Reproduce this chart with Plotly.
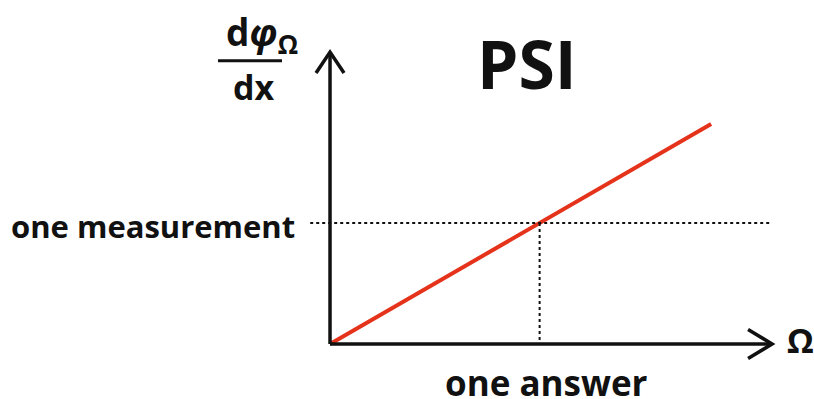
import plotly.graph_objects as go

# Linear relation between the gradient dφ/dx and Ω
omega = [0.0, 1.0]
dphi_dx = [0.0, 1.0]

# The single reading and the value it maps to
measurement = 0.55
answer = 0.55

measure_label = "one measurement"
answer_label = "one answer"
title_text = "PSI"

FONT = "Open Sans"
RED = "#e5321b"
INK = "#111111"

# plot ranges (data units)
X_RANGE = [-0.866, 1.270]
Y_RANGE = [-0.25, 1.5636]
X_AXIS_END = 1.16
Y_AXIS_END = 1.327

fig = go.Figure()

fig.add_trace(go.Scatter(
    x=omega, y=dphi_dx, mode="lines",
    line=dict(color=RED, width=4), hoverinfo="skip", showlegend=False,
))

shapes = []
# axes
shapes.append(dict(type="line", xref="x", yref="y", x0=0, y0=0, x1=X_AXIS_END, y1=0,
                   line=dict(color=INK, width=3.5)))
shapes.append(dict(type="line", xref="x", yref="y", x0=0, y0=0, x1=0, y1=Y_AXIS_END,
                   line=dict(color=INK, width=3.5)))
# open arrow heads
ax_dx, ax_dy = 24 / 381, 14.5 / 220
shapes.append(dict(type="path", xref="x", yref="y",
                   path=f"M{X_AXIS_END-ax_dx},{ax_dy} L{X_AXIS_END},0 L{X_AXIS_END-ax_dx},{-ax_dy}",
                   line=dict(color=INK, width=3.5)))
ay_dx, ay_dy = 14 / 381, 21 / 220
shapes.append(dict(type="path", xref="x", yref="y",
                   path=f"M{-ay_dx},{Y_AXIS_END-ay_dy} L0,{Y_AXIS_END} L{ay_dx},{Y_AXIS_END-ay_dy}",
                   line=dict(color=INK, width=3.5)))
# guide lines
shapes.append(dict(type="line", xref="x", yref="y", x0=-0.052, y0=measurement, x1=X_AXIS_END,
                   y1=measurement, line=dict(color=INK, width=2, dash="3px,3px")))
shapes.append(dict(type="line", xref="x", yref="y", x0=answer, y0=measurement, x1=answer, y1=0,
                   line=dict(color=INK, width=2, dash="3px,3px")))
# fraction bar of the y-axis label
FRAC_Y = 1.288
shapes.append(dict(type="line", xref="x", yref="y", x0=-0.294, y0=FRAC_Y, x1=-0.126, y1=FRAC_Y,
                   line=dict(color=INK, width=3)))

annotations = [
    dict(x=0.517, y=1.282, text=f"<b>{title_text}</b>", showarrow=False,
         font=dict(family=FONT, size=66, color=INK), xanchor="center", yanchor="middle", yshift=-1),
    dict(x=-0.087, y=measurement, text=f"<b>{measure_label}</b>", showarrow=False,
         font=dict(family=FONT, size=31, color=INK), xanchor="right", yanchor="middle", yshift=-3),
    dict(x=answer, y=-0.18, text=f"<b>{answer_label}</b>", showarrow=False,
         font=dict(family=FONT, size=35, color=INK), xanchor="center", yanchor="middle",
         xshift=7, yshift=1),
    dict(x=1.195, y=0, text="<b>Ω</b>", showarrow=False,
         font=dict(family=FONT, size=34, color=INK), xanchor="left", yanchor="middle", yshift=4),
    dict(x=-0.178, y=FRAC_Y, text="<b>d<i>φ</i></b><sub><b>Ω</b></sub>", showarrow=False,
         font=dict(family=FONT, size=37, color=INK), xanchor="center", yanchor="bottom", yshift=-3),
    dict(x=-0.20, y=FRAC_Y, text="<b>dx</b>", showarrow=False,
         font=dict(family=FONT, size=34, color=INK), xanchor="center", yanchor="top", yshift=-1),
]

fig.update_layout(
    width=814, height=399,
    margin=dict(l=0, r=0, t=0, b=0),
    paper_bgcolor="white", plot_bgcolor="white",
    xaxis=dict(range=X_RANGE, visible=False, fixedrange=True),
    yaxis=dict(range=Y_RANGE, visible=False, fixedrange=True),
    shapes=shapes, annotations=annotations,
    showlegend=False,
)

fig.write_html("out.html")
